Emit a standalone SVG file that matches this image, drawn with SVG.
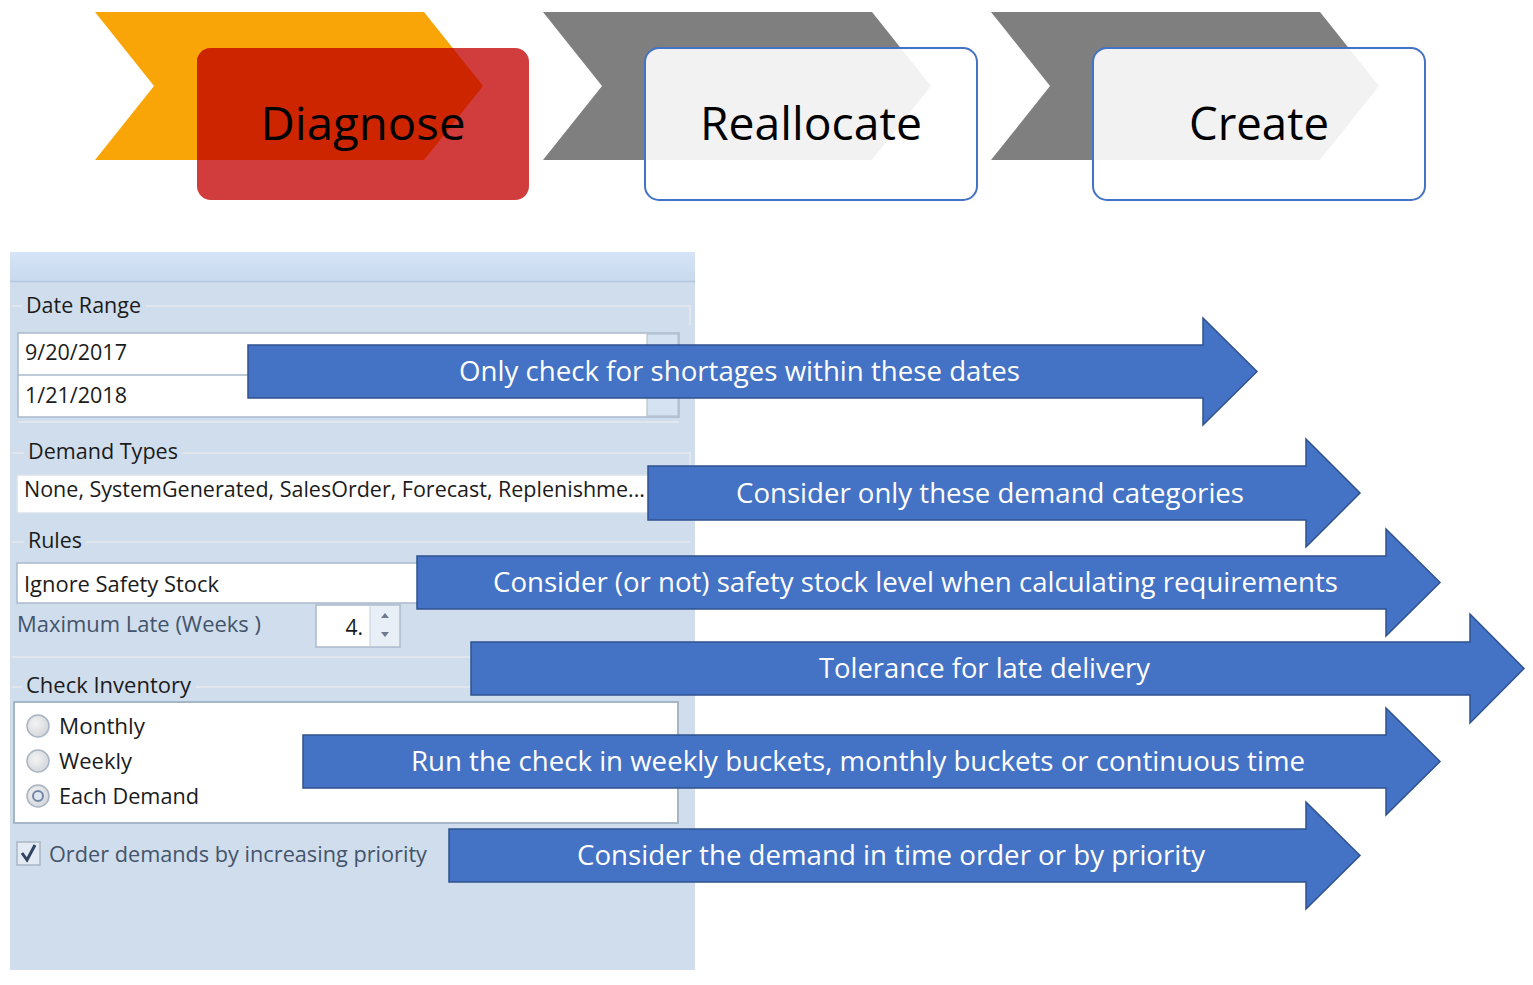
<svg xmlns="http://www.w3.org/2000/svg" width="1533" height="985" viewBox="0 0 1533 985">
<style>
.step{font-family:"Open Sans","Noto Sans",sans-serif;font-size:46px;fill:#000;text-anchor:middle}
.call{font-family:"Open Sans","Noto Sans",sans-serif;font-size:27px;fill:#fff;text-anchor:middle}
.arrow{fill:#4472C4;stroke:#2F528F;stroke-width:1.5}
.frm{font-family:"Open Sans","Noto Sans",sans-serif;font-size:21px;fill:#1b1b1b}
.frm2{font-family:"Open Sans","Noto Sans",sans-serif;font-size:21px;fill:#44546a}
.box{fill:#fff;stroke:#aab9cc;stroke-width:1.5}
.faint{stroke:#e2e7ee;stroke-width:2;fill:none}
.radio{fill:url(#rg);stroke:#a9b4c2;stroke-width:1.5}
</style>
<defs>
<linearGradient id="hdr" x1="0" y1="0" x2="0" y2="1">
<stop offset="0" stop-color="#d6e5f7"/><stop offset="1" stop-color="#c8d9ee"/>
</linearGradient>
<radialGradient id="rg" cx="0.4" cy="0.4" r="0.7">
<stop offset="0" stop-color="#f4f4f4"/><stop offset="1" stop-color="#cfd3d8"/>
</radialGradient>
<clipPath id="c1"><rect x="197" y="48" width="332" height="152" rx="14"/></clipPath>
<clipPath id="c2"><rect x="645" y="48" width="332" height="152" rx="14"/></clipPath>
<clipPath id="c3"><rect x="1093" y="48" width="332" height="152" rx="14"/></clipPath>
</defs>

<g id="step-diagnose">
<polygon points="95,12 424,12 483,86 424,160 95,160 154,86" fill="#F9A507"/>
<rect x="197" y="48" width="332" height="152" rx="14" fill="#D13C3C"/>
<polygon points="95,12 424,12 483,86 424,160 95,160 154,86" fill="#CC2500" clip-path="url(#c1)"/>
<text class="step" x="363" y="140" textLength="205" lengthAdjust="spacingAndGlyphs">Diagnose</text>
</g>

<g id="step-reallocate">
<polygon points="543,12 872,12 931,86 872,160 543,160 602,86" fill="#7F7F7F"/>
<rect x="645" y="48" width="332" height="152" rx="14" fill="#fff"/>
<polygon points="543,12 872,12 931,86 872,160 543,160 602,86" fill="#F2F2F2" clip-path="url(#c2)"/>
<rect x="645" y="48" width="332" height="152" rx="14" fill="none" stroke="#4472C4" stroke-width="2"/>
<text class="step" x="811" y="140" textLength="222" lengthAdjust="spacingAndGlyphs">Reallocate</text>
</g>

<g id="step-create">
<polygon points="991,12 1320,12 1379,86 1320,160 991,160 1050,86" fill="#7F7F7F"/>
<rect x="1093" y="48" width="332" height="152" rx="14" fill="#fff"/>
<polygon points="991,12 1320,12 1379,86 1320,160 991,160 1050,86" fill="#F2F2F2" clip-path="url(#c3)"/>
<rect x="1093" y="48" width="332" height="152" rx="14" fill="none" stroke="#4472C4" stroke-width="2"/>
<text class="step" x="1259" y="140" textLength="140" lengthAdjust="spacingAndGlyphs">Create</text>
</g>

<g id="settings-panel">
<rect x="10" y="252" width="685" height="718" fill="#CFDDED"/>
<rect x="10" y="252" width="685" height="29" fill="url(#hdr)"/>
<line x1="10" y1="281.5" x2="695" y2="281.5" stroke="#b4c7df" stroke-width="1.5"/>

<!-- Date Range -->
<polyline class="faint" points="12,306 22,306"/>
<polyline class="faint" points="146,306 690,306 690,325"/>
<text class="frm" x="26" y="313" textLength="115" lengthAdjust="spacingAndGlyphs">Date Range</text>
<rect class="box" x="18" y="333" width="661" height="84"/>
<line x1="18" y1="375" x2="679" y2="375" stroke="#aab9cc" stroke-width="1.5"/>
<rect x="647" y="334" width="31" height="40" fill="#d4e2f2" stroke="#aab9cc" stroke-width="1"/>
<rect x="647" y="376" width="31" height="40" fill="#d4e2f2" stroke="#aab9cc" stroke-width="1"/>
<text class="frm" x="25" y="360" textLength="102" lengthAdjust="spacingAndGlyphs">9/20/2017</text>
<text class="frm" x="25" y="403" textLength="102" lengthAdjust="spacingAndGlyphs">1/21/2018</text>
<line class="faint" x1="18" y1="422" x2="679" y2="422"/>

<!-- Demand Types -->
<polyline class="faint" points="12,453 24,453"/>
<polyline class="faint" points="182,453 690,453 690,470"/>
<text class="frm" x="28" y="459" textLength="150" lengthAdjust="spacingAndGlyphs">Demand Types</text>
<rect x="17" y="475" width="650" height="38" fill="#fff" stroke="#d9e2ec" stroke-width="1.5"/>
<text class="frm" x="24" y="497" textLength="621" lengthAdjust="spacingAndGlyphs">None, SystemGenerated, SalesOrder, Forecast, Replenishme...</text>

<!-- Rules -->
<polyline class="faint" points="12,542 24,542"/>
<polyline class="faint" points="86,542 690,542"/>
<text class="frm" x="28" y="548" textLength="54" lengthAdjust="spacingAndGlyphs">Rules</text>
<rect class="box" x="17" y="563" width="450" height="40"/>
<text class="frm" x="24" y="592" textLength="195" lengthAdjust="spacingAndGlyphs">Ignore Safety Stock</text>
<text class="frm2" x="17" y="632" textLength="244" lengthAdjust="spacingAndGlyphs">Maximum Late (Weeks )</text>
<rect class="box" x="316" y="605" width="84" height="42"/>
<rect x="370" y="606" width="29" height="40" fill="#e9eff7"/>
<line x1="370" y1="605" x2="370" y2="647" stroke="#c2cedd" stroke-width="1"/>
<polygon points="381,618 389,618 385,613" fill="#6b7a8e"/>
<polygon points="381,632 389,632 385,637" fill="#6b7a8e"/>
<text class="frm" x="363" y="635" text-anchor="end">4.</text>
<line class="faint" x1="12" y1="657" x2="690" y2="657"/>

<!-- Check Inventory -->
<polyline class="faint" points="12,687 22,687"/>
<polyline class="faint" points="196,687 690,687"/>
<text class="frm" x="26" y="693" textLength="165" lengthAdjust="spacingAndGlyphs">Check Inventory</text>
<rect x="14" y="702" width="664" height="121" fill="#fff" stroke="#a7b5c8" stroke-width="2"/>
<circle class="radio" cx="38" cy="726" r="11"/>
<circle class="radio" cx="38" cy="761" r="11"/>
<circle class="radio" cx="38" cy="796" r="11"/>
<circle cx="38" cy="796" r="5" fill="#dfe6ee" stroke="#6f86a4" stroke-width="2"/>
<text class="frm" x="59" y="734" textLength="86" lengthAdjust="spacingAndGlyphs">Monthly</text>
<text class="frm" x="59" y="769" textLength="73" lengthAdjust="spacingAndGlyphs">Weekly</text>
<text class="frm" x="59" y="804" textLength="140" lengthAdjust="spacingAndGlyphs">Each Demand</text>

<!-- Order demands -->
<rect x="17" y="842" width="23" height="23" fill="#e3eaf3" stroke="#a9b6c6" stroke-width="1.5"/>
<path d="M22,853 L27,860 L35,845" fill="none" stroke="#2e4461" stroke-width="3"/>
<text class="frm2" x="49" y="862" textLength="378" lengthAdjust="spacingAndGlyphs">Order demands by increasing priority</text>
</g>

<g id="arrow-dates">
<polygon class="arrow" points="248,345 1203,345 1203,318 1257,371.5 1203,425 1203,398 248,398"/>
<text class="call" x="739.5" y="381" textLength="561" lengthAdjust="spacingAndGlyphs">Only check for shortages within these dates</text>
</g>
<g id="arrow-demand">
<polygon class="arrow" points="648,466 1306,466 1306,439 1360,493 1306,547 1306,520 648,520"/>
<text class="call" x="990" y="503" textLength="508" lengthAdjust="spacingAndGlyphs">Consider only these demand categories</text>
</g>
<g id="arrow-safety">
<polygon class="arrow" points="417,556 1386,556 1386,529 1440,582.5 1386,636 1386,609 417,609"/>
<text class="call" x="915.5" y="592" textLength="845" lengthAdjust="spacingAndGlyphs">Consider (or not) safety stock level when calculating requirements</text>
</g>
<g id="arrow-late">
<polygon class="arrow" points="471,642 1470,642 1470,614 1524,668.5 1470,723 1470,695 471,695"/>
<text class="call" x="984.5" y="678" textLength="331" lengthAdjust="spacingAndGlyphs">Tolerance for late delivery</text>
</g>
<g id="arrow-buckets">
<polygon class="arrow" points="303,735 1386,735 1386,708 1440,761.5 1386,815 1386,788 303,788"/>
<text class="call" x="858" y="771" textLength="894" lengthAdjust="spacingAndGlyphs">Run the check in weekly buckets, monthly buckets or continuous time</text>
</g>
<g id="arrow-priority">
<polygon class="arrow" points="449,829 1306,829 1306,802 1360,855.5 1306,909 1306,882 449,882"/>
<text class="call" x="891" y="865" textLength="628" lengthAdjust="spacingAndGlyphs">Consider the demand in time order or by priority</text>
</g>
<g id="connectors"/>
</svg>
